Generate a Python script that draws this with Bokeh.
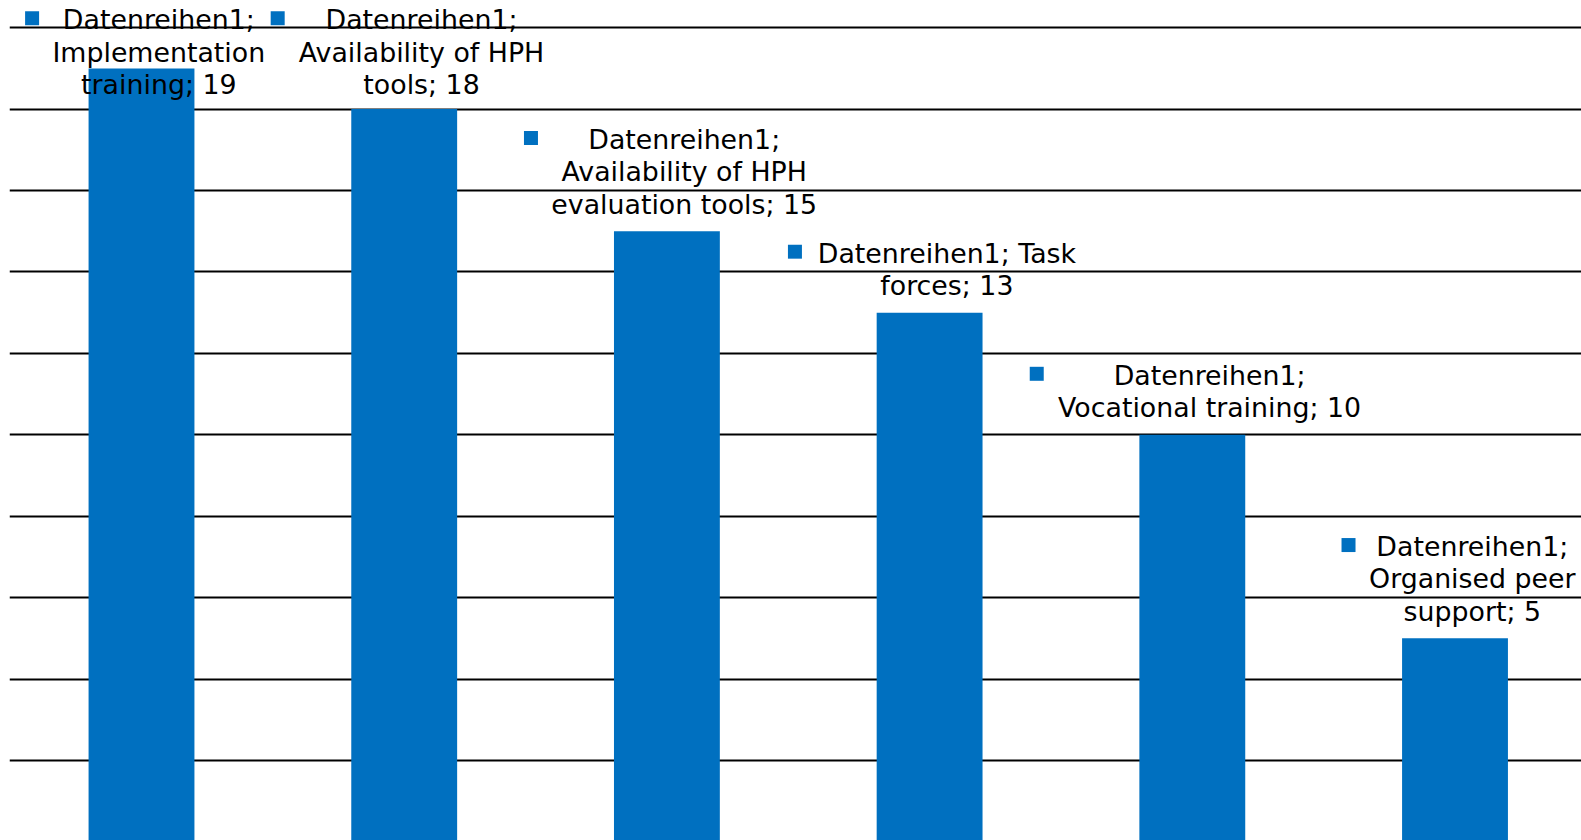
from bokeh.plotting import figure
from bokeh.models import Range1d, SingleIntervalTicker
from bokeh.embed import file_html
from bokeh.resources import INLINE
from bokeh.core.properties import value

# ---------------- data ----------------
series_name = "Datenreihen1"
categories = [
    "Implementation training",
    "Availability of HPH tools",
    "Availability of HPH evaluation tools",
    "Task forces",
    "Vocational training",
    "Organised peer support",
]
values = [19, 18, 15, 13, 10, 5]

# ---------------- layout / style ----------------
BAR_COLOR = "#0070C0"
W, H = 1581, 840
BORDER_L = 9
FW = W - BORDER_L
FH = H
PX_PER_CAT = 262.7
X0 = -0.5025
X1 = X0 + FW / PX_PER_CAT
PX_PER_UNIT = 40.71
ZERO_PX = 841.4          # screen y of value 0 (just below the visible area)
Y1 = ZERO_PX / PX_PER_UNIT
Y0 = Y1 - FH / PX_PER_UNIT

FONT_PX = 26.8
LINE_H = 32.3
WRAP_EM = 11.6
TOP_LINE_MIN = 19.2

# DejaVu Sans advance widths (em)
EM = {
    " ": .318, "A": .684, "D": .770, "H": .752, "I": .295, "O": .787, "P": .603,
    "T": .611, "V": .684, "a": .613, "b": .635, "c": .550, "d": .635, "e": .615,
    "f": .352, "g": .635, "h": .634, "i": .278, "k": .579, "l": .278, "m": .974,
    "n": .634, "o": .612, "p": .635, "r": .411, "s": .521, "t": .392, "u": .634,
    "v": .592, "y": .592, ";": .337,
}


def em_width(s):
    return sum(EM.get(c, .636) for c in s)


def wrap(s):
    lines, cur = [], ""
    for w in s.split(" "):
        cand = w if not cur else cur + " " + w
        if cur and em_width(cand) > WRAP_EM:
            lines.append(cur)
            cur = w
        else:
            cur = cand
    lines.append(cur)
    return lines


p = figure(
    width=W, height=H,
    x_range=Range1d(X0, X1), y_range=Range1d(Y0, Y1),
    output_backend="svg", toolbar_location=None,
    min_border_left=BORDER_L, min_border_right=0,
    min_border_top=0, min_border_bottom=0,
)
p.outline_line_color = None
p.xaxis.visible = False
p.yaxis.visible = False
p.xgrid.visible = False
p.ygrid.ticker = SingleIntervalTicker(interval=2)
p.ygrid.grid_line_color = "#000000"
p.ygrid.grid_line_width = 2

xs = list(range(len(categories)))
p.vbar(x=xs, top=values, bottom=0, width=0.403, fill_color=BAR_COLOR, line_color=None)

# data labels
tx, ty, tt = [], [], []
mx, my = [], []
for i, (cat, v) in enumerate(zip(categories, values)):
    lines = wrap(f"{series_name}; {cat}; {v}")
    bar_top_px = (Y1 - v) * PX_PER_UNIT
    n = len(lines)
    first_c = bar_top_px - 27.2 - (n - 1) * LINE_H
    if first_c < TOP_LINE_MIN:
        first_c = TOP_LINE_MIN
    cx = i + 17.3 / PX_PER_CAT
    for k, ln in enumerate(lines):
        tx.append(cx)
        ty.append(Y1 - (first_c + k * LINE_H) / PX_PER_UNIT)
        tt.append(ln)
    maxw = max(em_width(ln) for ln in lines) * FONT_PX
    mx.append(cx - (maxw / 2 + 20.3) / PX_PER_CAT)
    my.append(Y1 - (first_c - 1.5) / PX_PER_UNIT)

p.scatter(x=mx, y=my, marker="square", size=14, fill_color=BAR_COLOR, line_color=None)
p.text(
    x=tx, y=ty, text=tt,
    text_font=value("DejaVu Sans"), text_font_size=f"{FONT_PX}px",
    text_align="center", text_baseline="middle", text_color="#000000",
)

open("out.html", "w").write(file_html(p, INLINE))
